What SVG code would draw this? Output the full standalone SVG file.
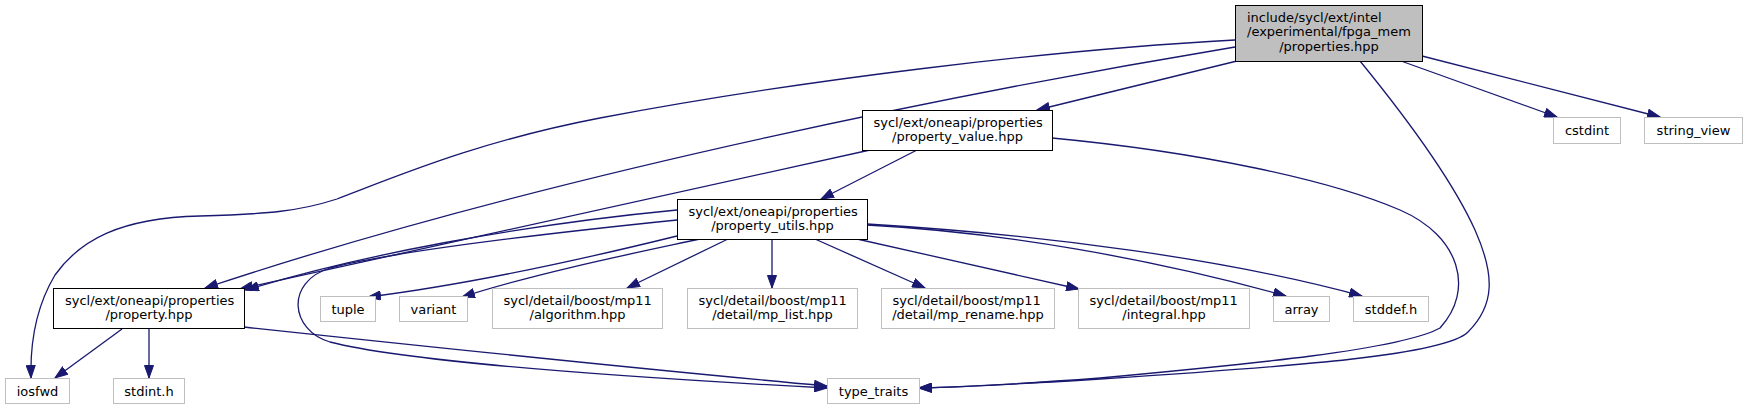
<svg xmlns="http://www.w3.org/2000/svg" width="1747" height="409" viewBox="0 0 1747 409">
<defs>
<style>
.n rect{fill:#fff;stroke:#000;stroke-width:1}
.g rect{fill:#fff;stroke:#bfbfbf;stroke-width:1}
.r rect{fill:#bfbfbf;stroke:#000;stroke-width:1}
text{font-family:"DejaVu Sans","Liberation Sans",sans-serif;font-size:13px;fill:#000}
.m{text-anchor:middle}
.s{text-anchor:start}
#edges path{fill:none;stroke:#191970;stroke-width:1.3;marker-end:url(#ah)}
</style>
<marker id="ah" markerUnits="userSpaceOnUse" markerWidth="14" markerHeight="10" refX="13" refY="5" orient="auto" viewBox="0 0 14 10">
<path d="M0.5,0.5 L13,5 L0.5,9.5 z" fill="#191970" stroke="#191970" stroke-width="1"/>
</marker>
</defs>
<rect width="1747" height="409" fill="#fff"/>
<g id="edges">
<path d="M1235,40 C1050,50 800,80 600,118 C480,141 400,175 337,199 C300,211 270,214 200,216 C120,218 80,240 55,275 C37,305 30,340 31,378"/>
<path d="M1235,47 C1000,86 560,170 205,288"/>
<path d="M1237,61 L1037,110"/>
<path d="M1401,61 L1557,117"/>
<path d="M1422,56 L1660,117"/>
<path d="M1360,61 C1400,110 1450,175 1475,230 C1495,275 1495,305 1468,332 C1445,355 1300,366 1100,379 C1020,384 960,387 919,388"/>
<path d="M917,150 L821,199"/>
<path d="M870,150 L240,289"/>
<path d="M1052,138 C1200,152 1330,180 1400,210 C1460,236 1475,290 1440,328 C1400,350 1250,364 1100,378 C1020,384 960,387 919,388"/>
<path d="M677,210 C520,225 360,255 246,290"/>
<path d="M677,236 C600,255 480,283 368,297"/>
<path d="M700,239 C640,252 540,272 462,297"/>
<path d="M728,239 L627,288"/>
<path d="M772,239 L772,288"/>
<path d="M815,239 L925,288"/>
<path d="M857,239 L1079,289"/>
<path d="M867,225 C1000,232 1150,258 1286,296"/>
<path d="M867,224 C1050,235 1230,260 1362,296"/>
<path d="M677,220 C560,232 400,250 330,268 C285,282 290,330 330,342 C400,360 600,376 827,388"/>
<path d="M122,329 L55,378"/>
<path d="M149,329 L149,378"/>
<path d="M244,327 C450,349 650,370 827,386"/>
</g>
<g id="node_root" class="r"><rect x="1235.5" y="5.5" width="187" height="56"/><text class="s" x="1247" y="21.5">include/sycl/ext/intel</text><text class="s" x="1247" y="36">/experimental/fpga_mem</text><text class="m" x="1329" y="50.5">/properties.hpp</text></g>
<g id="node_property_value" class="n"><rect x="862.5" y="110.5" width="190" height="40"/><text class="s" x="873.5" y="127">sycl/ext/oneapi/properties</text><text class="m" x="957.5" y="141">/property_value.hpp</text></g>
<g id="node_property_utils" class="n"><rect x="677.5" y="199.5" width="190" height="40"/><text class="s" x="688.5" y="216">sycl/ext/oneapi/properties</text><text class="m" x="772.5" y="230">/property_utils.hpp</text></g>
<g id="node_property" class="n"><rect x="53.5" y="288.5" width="191" height="40"/><text class="s" x="65" y="305">sycl/ext/oneapi/properties</text><text class="m" x="149" y="319">/property.hpp</text></g>
<g id="node_tuple" class="g"><rect x="320.5" y="296.5" width="55" height="25"/><text class="m" x="348" y="313.5">tuple</text></g>
<g id="node_variant" class="g"><rect x="399.5" y="296.5" width="68" height="25"/><text class="m" x="433.5" y="313.5">variant</text></g>
<g id="node_algorithm" class="g"><rect x="492.5" y="288.5" width="170" height="40"/><text class="s" x="503.5" y="305">sycl/detail/boost/mp11</text><text class="m" x="577.5" y="319">/algorithm.hpp</text></g>
<g id="node_mp_list" class="g"><rect x="687.5" y="288.5" width="170" height="40"/><text class="s" x="698.5" y="305">sycl/detail/boost/mp11</text><text class="m" x="772.5" y="319">/detail/mp_list.hpp</text></g>
<g id="node_mp_rename" class="g"><rect x="881.5" y="288.5" width="173" height="40"/><text class="s" x="892.5" y="305">sycl/detail/boost/mp11</text><text class="m" x="968" y="319">/detail/mp_rename.hpp</text></g>
<g id="node_integral" class="g"><rect x="1078.5" y="288.5" width="171" height="40"/><text class="s" x="1089.5" y="305">sycl/detail/boost/mp11</text><text class="m" x="1164" y="319">/integral.hpp</text></g>
<g id="node_array" class="g"><rect x="1273.5" y="296.5" width="56" height="25"/><text class="m" x="1301.5" y="313.5">array</text></g>
<g id="node_stddef" class="g"><rect x="1353.5" y="296.5" width="75" height="25"/><text class="m" x="1391" y="313.5">stddef.h</text></g>
<g id="node_cstdint" class="g"><rect x="1553.5" y="117.5" width="67" height="26"/><text class="m" x="1587" y="135">cstdint</text></g>
<g id="node_string_view" class="g"><rect x="1644.5" y="117.5" width="98" height="26"/><text class="m" x="1693.5" y="135">string_view</text></g>
<g id="node_iosfwd" class="g"><rect x="5.5" y="378.5" width="64" height="25"/><text class="m" x="37.5" y="395.5">iosfwd</text></g>
<g id="node_stdint" class="g"><rect x="113.5" y="378.5" width="71" height="25"/><text class="m" x="149" y="395.5">stdint.h</text></g>
<g id="node_type_traits" class="g"><rect x="827.5" y="378.5" width="92" height="25"/><text class="m" x="873.5" y="395.5">type_traits</text></g>
</svg>
